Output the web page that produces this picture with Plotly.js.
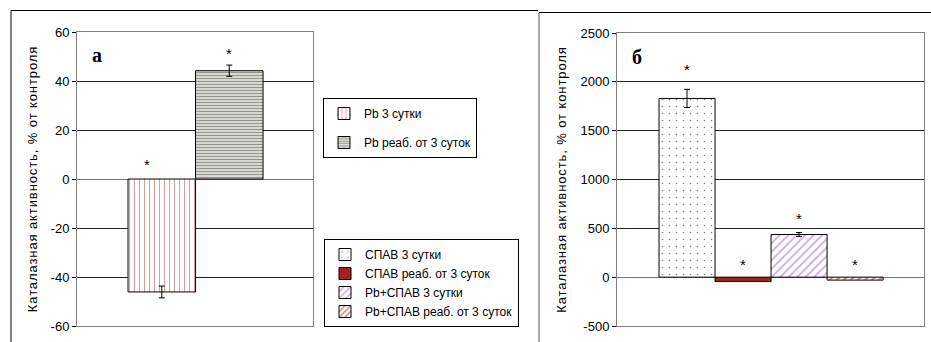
<!DOCTYPE html>
<html><head><meta charset="utf-8">
<script src="https://cdn.plot.ly/plotly-3.0.1.min.js"></script>
<style>html,body{margin:0;padding:0;background:#fff}#chart{width:931px;height:342px}
.ytitle,.y2title{letter-spacing:0.9px}</style>
</head><body><div id="chart"></div>
<script>
// ---- data ----
const seriesA = ['Pb 3 сутки', 'Pb реаб. от 3 суток'];
const valuesA = [-46.1, 44.2];
const errorsA = [2.4, 2.3];
const starsA = [7, 52.6];
const seriesB = ['СПАВ 3 сутки', 'СПАВ реаб. от 3 суток', 'Pb+СПАВ 3 сутки', 'Pb+СПАВ реаб. от 3 суток'];
const valuesB = [1830, -45, 437, -30];
const errorsB = [93, 0, 20, 0];
const starsB = [2152, 157, 635, 157];
const ticksA = [-60, -40, -20, 0, 20, 40, 60];
const ticksB = [-500, 0, 500, 1000, 1500, 2000, 2500];
const tickTextA = ['-60', '-40', '-20', '0', '20', '40', '60'];
const tickTextB = ['-500', '0', '500', '1000', '1500', '2000', '2500'];
const yTitle = 'Каталазная активность, % от контроля';
const panelA = 'а';
const panelB = 'б';

// ---- styles ----
const W = 931, H = 342;
const FONT = 'Arial, Liberation Sans, sans-serif';
const stylesA = [
  {color: '#fff', pattern: {shape: '|', fgcolor: '#b83a3a', size: 5, solidity: 0.2, fillmode: 'overlay'}},
  {color: '#fff', pattern: {shape: '-', fgcolor: '#2e2e1a', size: 3, solidity: 0.6, fillmode: 'overlay'}}
];
const stylesB = [
  {color: '#fff', pattern: {shape: '.', fgcolor: '#000', size: 7, solidity: 0.04, fillmode: 'overlay'}},
  {color: '#a3221e', pattern: {shape: '', fillmode: 'overlay'}},
  {color: '#fff', pattern: {shape: '/', fgcolor: '#9a4fb0', size: 6, solidity: 0.3, fillmode: 'overlay'}},
  {color: '#fff', pattern: {shape: '/', fgcolor: '#a3221e', size: 5, solidity: 0.45, fillmode: 'overlay'}}
];

const traces = [];
const annotations = [];
function addSeries(names, vals, errs, stars, styles, xa, ya, leg, starShift) {
  names.forEach((n, i) => {
    traces.push({
      type: 'bar', x: [i], y: [vals[i]], width: 1, name: n,
      xaxis: xa, yaxis: ya, legend: leg, legendgroup: n,
      marker: {color: styles[i].color, pattern: styles[i].pattern, line: {color: '#000', width: 1}},
      error_y: {type: 'data', array: [errs[i]], visible: errs[i] > 0, color: '#000', thickness: 1, width: 3},
      hoverinfo: 'skip'
    });
    annotations.push({
      x: i, y: stars[i], xref: xa, yref: ya, text: '*', showarrow: false,
      font: {family: FONT, size: 15, color: '#000'}, yshift: -3, xshift: (starShift[i] || 0)
    });
  });
}
addSeries(seriesA, valuesA, errorsA, starsA, stylesA, 'x', 'y', 'legend', [-15, 0]);
addSeries(seriesB, valuesB, errorsB, starsB, stylesB, 'x2', 'y2', 'legend2', [0, 0, 0, 0]);

annotations.push({x: 97 / W, y: 1 - 55 / H, xref: 'paper', yref: 'paper', xanchor: 'center', yanchor: 'middle',
  text: '<b>' + panelA + '</b>', showarrow: false,
  font: {family: 'Liberation Serif, Times New Roman, serif', size: 20, color: '#000'}});
annotations.push({x: 637 / W, y: 1 - 57 / H, xref: 'paper', yref: 'paper', xanchor: 'center', yanchor: 'middle',
  text: '<b>' + panelB + '</b>', showarrow: false,
  font: {family: 'Liberation Serif, Times New Roman, serif', size: 20, color: '#000'}});

const xCommon = {showticklabels: false, showgrid: false, zeroline: false, showline: true, mirror: true,
  linecolor: '#808080', linewidth: 1, ticks: '', fixedrange: true};
const yCommon = {showgrid: true, gridcolor: '#222', gridwidth: 1, zeroline: true, zerolinecolor: '#777', zerolinewidth: 1,
  showline: true, mirror: true, linecolor: '#808080', linewidth: 1, ticks: 'outside', ticklen: 4, tickcolor: '#000',
  tickfont: {family: FONT, size: 13, color: '#000'}, tickmode: 'array',
  title: {text: yTitle, font: {family: FONT, size: 13, color: '#000'}, standoff: 10}};

function ln(x0, y0, x1, y1, c) {
  return {type: 'line', xref: 'paper', yref: 'paper', x0: x0 / W, y0: 1 - y0 / H, x1: x1 / W, y1: 1 - y1 / H,
    line: {color: c, width: 1}};
}

const layout = {
  width: W, height: H, margin: {l: 0, r: 0, t: 0, b: 0},
  paper_bgcolor: '#fff', plot_bgcolor: '#fff', barmode: 'overlay', showlegend: true,
  xaxis: Object.assign({}, xCommon, {domain: [77 / W, 313 / W], range: [-1.256, 2.24], anchor: 'y'}),
  yaxis: Object.assign({}, yCommon, {domain: [1 - 326 / H, 1 - 32 / H], range: [-60, 60], tickvals: ticksA, ticktext: tickTextA, anchor: 'x'}),
  xaxis2: Object.assign({}, xCommon, {domain: [617 / W, 924 / W], range: [-1.25, 4.23], anchor: 'y2'}),
  yaxis2: Object.assign({}, yCommon, {domain: [1 - 326 / H, 1 - 33 / H], range: [-500, 2500], tickvals: ticksB, ticktext: tickTextB, anchor: 'x2'}),
  legend: {x: 323 / W, y: 1 - 98 / H, xanchor: 'left', yanchor: 'top', bgcolor: '#fff', bordercolor: '#000', borderwidth: 1,
    font: {family: FONT, size: 12, color: '#000'}, traceorder: 'grouped', tracegroupgap: 10},
  legend2: {x: 324 / W, y: 1 - 239 / H, xanchor: 'left', yanchor: 'top', bgcolor: '#fff', bordercolor: '#000', borderwidth: 1,
    font: {family: FONT, size: 12, color: '#000'}, traceorder: 'grouped', tracegroupgap: 0},
  annotations: annotations,
  shapes: [
    ln(11, 342, 11, 10.5, '#000'), ln(11, 10.5, 538, 10.5, '#000'),
    ln(539, 342, 539, 12.5, '#555'), ln(539, 12.5, 931, 12.5, '#000')
  ]
};

Plotly.newPlot('chart', traces, layout, {displayModeBar: false, staticPlot: true});
</script>
</body></html>
